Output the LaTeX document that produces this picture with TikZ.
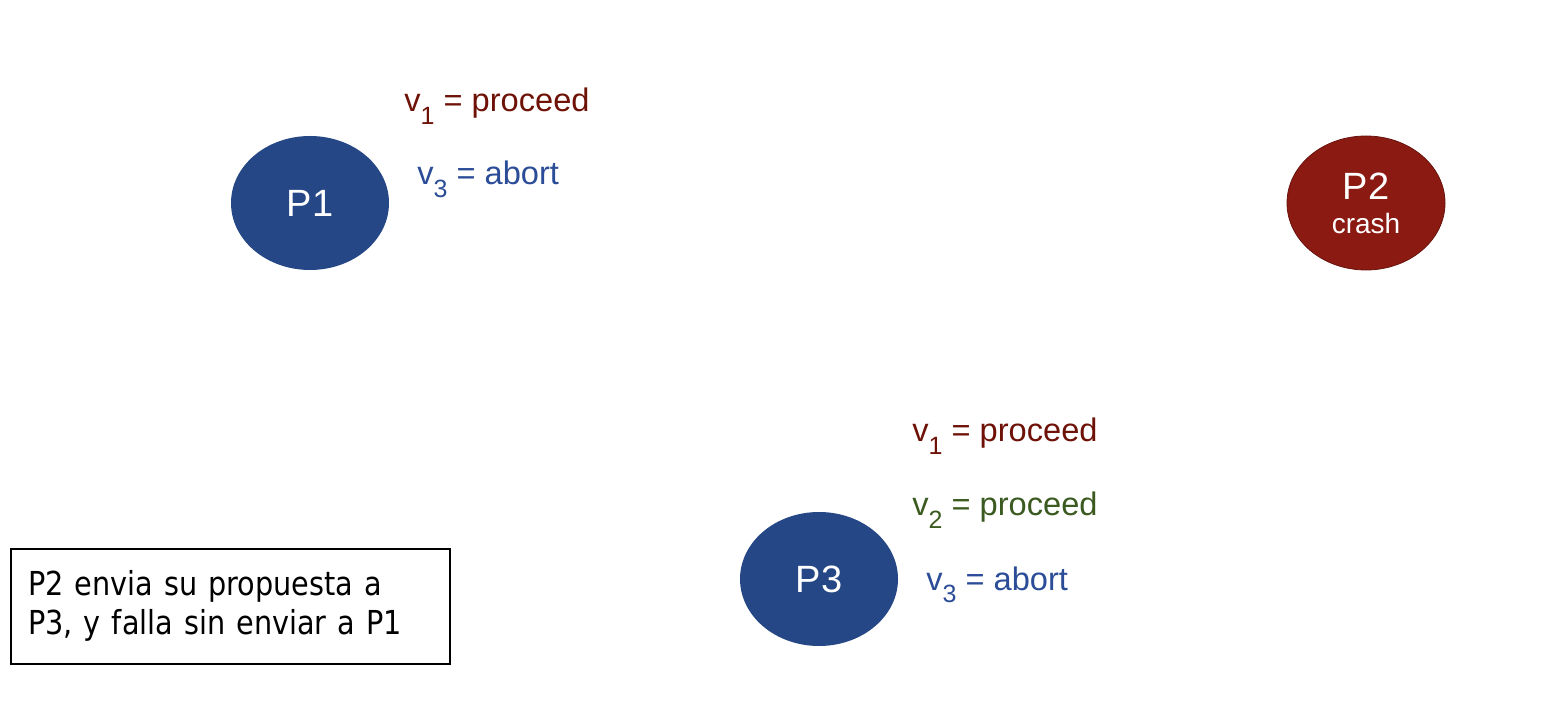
\documentclass[tikz,border=0pt]{standalone}
\usepackage{fontspec}
\setmainfont{Liberation Sans}
\newfontfamily\notefont[FakeStretch=0.87]{DejaVu Sans}
\usetikzlibrary{positioning,shapes.geometric}
\definecolor{procblue}{HTML}{264785}
\definecolor{crashred}{HTML}{8B1A12}
\definecolor{valred}{HTML}{6E1208}
\definecolor{valgreen}{HTML}{3B5A1F}
\definecolor{valblue}{HTML}{2B4C97}
\newcommand{\vsub}[1]{v\raisebox{-0.75ex}{\fontsize{12.5}{12.5}\selectfont #1}}
\tikzset{
  every node/.style={font=\fontsize{16.3}{20}\selectfont},
  proc/.style={
    ellipse, fill=procblue, text=white,
    minimum width=79pt, minimum height=67pt,
    inner sep=0pt, font=\fontsize{19}{22}\selectfont
  },
  crashproc/.style={
    proc, fill=crashred, draw=crashred!75!black,
    align=center, font=\fontsize{19}{17}\selectfont
  },
  vlabel/.style={anchor=base west, inner sep=0pt},
  notebox/.style={
    rectangle, draw=black, thick, anchor=north west,
    minimum width=219.5pt, minimum height=57.5pt,
    inner xsep=8.5pt, text width=202pt, align=left,
    font=\notefont\fontsize{16.5}{19.5}\selectfont
  },
}
\begin{document}
\begin{tikzpicture}[x=0.5pt,y=-0.5pt]
  \useasboundingbox (0,0) rectangle (1566,704);

  % processes
  \node[proc] (p1) at (310,203) {P1};
  \node[crashproc] (p2) at (1366,203) {P2\\{\fontsize{14}{17}\selectfont crash}};
  \node[proc] (p3) at (819,579) {P3};

  % values known by P1
  \node[vlabel, text=valred] (p1v1) at (404,112) {\vsub{1} = proceed};
  \node[vlabel, text=valblue] (p1v3) at (417,185) {\vsub{3} = abort};

  % values known by P3
  \node[vlabel, text=valred] (p3v1) at (912,442) {\vsub{1} = proceed};
  \node[vlabel, text=valgreen] (p3v2) at (912,516) {\vsub{2} = proceed};
  \node[vlabel, text=valblue] (p3v3) at (926,590) {\vsub{3} = abort};

  \node[notebox] (note) at (10,548) {P2 envia su propuesta a\\P3, y falla sin enviar a P1};
\end{tikzpicture}
\end{document}
